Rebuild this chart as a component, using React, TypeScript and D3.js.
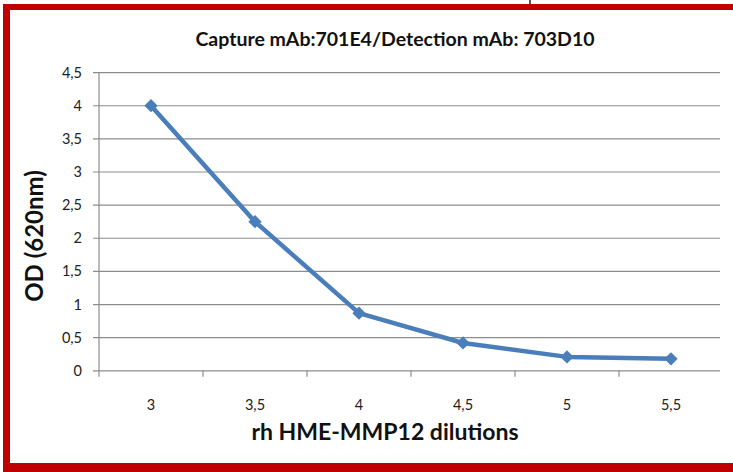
import * as d3 from "d3";

// chart data
const dilutions = ["3", "3,5", "4", "4,5", "5", "5,5"];
const odValues = [4.0, 2.25, 0.87, 0.42, 0.21, 0.18];
const yTicks = [0, 0.5, 1, 1.5, 2, 2.5, 3, 3.5, 4, 4.5];

const W = 733;
const H = 472;
const left = 99;
const right = 720;
const top = 72.6;
const bottom = 370.8;

const fmt = (v: number) => String(v).replace(".", ",");

const App = () => {
  const x = d3.scaleBand<string>().domain(dilutions).range([left, right + 3]).padding(0);
  const y = d3.scaleLinear().domain([0, 4.5]).range([bottom, top]);
  const cx = (d: string) => (x(d) ?? 0) + x.bandwidth() / 2;

  const line = d3
    .line<number>()
    .x((_, i) => cx(dilutions[i]))
    .y((v) => y(v));

  // excel style marker: square turned 45deg
  const marker = d3.symbol().type(d3.symbolSquare).size(88)() ?? "";
  const boundaries = dilutions.map((d) => x(d) ?? 0);

  return (
    <svg
      width={W}
      height={H}
      style={{ position: "absolute", left: 0, top: 0, background: "#fff" }}
      fontFamily="Lato, 'Open Sans', sans-serif"
    >
      {/* red frame */}
      <rect x={0} y={0} width={W} height={H} fill="#fff" />
      <rect x={3} y={4} width={W - 3} height={6} fill="#c00000" />
      <rect x={3} y={4} width={7} height={H - 4} fill="#c00000" />
      <rect x={3} y={463} width={W - 3} height={9} fill="#c00000" />
      <line x1={530} x2={530} y1={0} y2={4} stroke="#222" strokeWidth={1.5} />

      <text x={395} y={46} textAnchor="middle" fontSize={19.5} fontWeight={700} fill="#111">
        Capture mAb:701E4/Detection mAb: 703D10
      </text>

      {/* gridlines and y ticks */}
      {yTicks.map((t) => (
        <g key={t}>
          <line x1={93} x2={right} y1={y(t)} y2={y(t)} stroke="#8c8c8c" strokeWidth={1.2} />
          <text x={82} y={y(t)} dy="0.35em" textAnchor="end" fontSize={14.5} fill="#222">
            {fmt(t)}
          </text>
        </g>
      ))}
      <line x1={left} x2={left} y1={top} y2={bottom} stroke="#8c8c8c" strokeWidth={1.2} />

      {/* x ticks */}
      {boundaries.map((b, i) => (
        <line key={i} x1={b} x2={b} y1={bottom} y2={bottom + 6} stroke="#8c8c8c" strokeWidth={1.2} />
      ))}
      {dilutions.map((d) => (
        <text key={d} x={cx(d)} y={405} dy="0.35em" textAnchor="middle" fontSize={14.5} fill="#222">
          {d}
        </text>
      ))}

      {/* axis titles */}
      <text x={385} y={440} textAnchor="middle" fontSize={23} fontWeight={700} fill="#111">
        rh HME-MMP12 dilutions
      </text>
      <text
        transform="translate(43,236) rotate(-90)"
        textAnchor="middle"
        fontSize={24}
        fontWeight={700}
        fill="#111"
      >
        OD (620nm)
      </text>

      {/* series */}
      <path d={line(odValues) ?? ""} fill="none" stroke="#4a7ebb" strokeWidth={4.5} strokeLinejoin="round" />
      {odValues.map((v, i) => (
        <path
          key={i}
          d={marker}
          transform={`translate(${cx(dilutions[i])},${y(v)}) rotate(45)`}
          fill="#4a7ebb"
        />
      ))}
    </svg>
  );
};

export default App;
